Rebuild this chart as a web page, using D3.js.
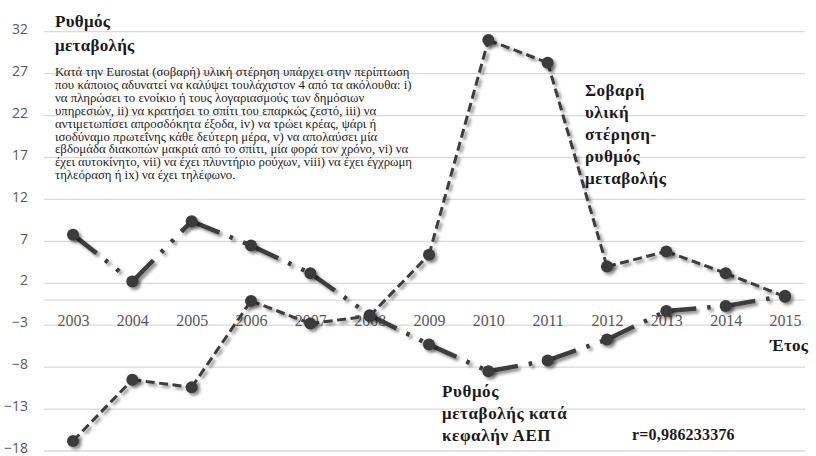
<!DOCTYPE html>
<html>
<head>
<meta charset="utf-8">
<script src="https://cdn.jsdelivr.net/npm/d3@7/dist/d3.min.js"></script>
<style>
  html, body { margin: 0; padding: 0; background: #ffffff; }
  svg { display: block; }
</style>
</head>
<body>
<svg id="chart" width="816" height="456"></svg>
<script>
// Years on the horizontal axis
const years = ["2003","2004","2005","2006","2007","2008","2009","2010","2011","2012","2013","2014","2015"];
// Rate of change of severe material deprivation (%)
const deprivationRate = [-16.8, -9.5, -10.4, -0.1, -2.8, -1.9, 5.4, 31.0, 28.3, 4.0, 5.8, 3.2, 0.4];
// Rate of change of GDP per capita (%)
const gdpRate = [7.8, 2.2, 9.4, 6.5, 3.2, -1.8, -5.3, -8.5, -7.2, -4.7, -1.3, -0.7, 0.5];
// Value-axis ticks
const yTicks = [32, 27, 22, 17, 12, 7, 2, -3, -8, -13, -18];

const titleLines = ["Ρυθμός", "μεταβολής"];
const noteLines = [
  "Κατά την Eurostat (σοβαρή) υλική στέρηση υπάρχει στην περίπτωση",
  "που κάποιος αδυνατεί να καλύψει τουλάχιστον 4 από τα ακόλουθα: i)",
  "να πληρώσει το ενοίκιο ή τους λογαριασμούς των δημόσιων",
  "υπηρεσιών, ii) να κρατήσει το σπίτι του επαρκώς ζεστό, iii) να",
  "αντιμετωπίσει απροσδόκητα έξοδα, iv) να τρώει κρέας, ψάρι ή",
  "ισοδύναμο πρωτεΐνης κάθε δεύτερη μέρα, v) να απολαύσει μία",
  "εβδομάδα διακοπών μακριά από το σπίτι, μία φορά τον χρόνο, vi) να",
  "έχει αυτοκίνητο, vii) να έχει πλυντήριο ρούχων, viii) να έχει έγχρωμη",
  "τηλεόραση ή ix) να έχει τηλέφωνο."
];
const deprivationLabel = ["Σοβαρή", "υλική", "στέρηση-", "ρυθμός", "μεταβολής"];
const gdpLabel = ["Ρυθμός", "μεταβολής κατά", "κεφαλήν ΑΕΠ"];
const xTitle = "Έτος";
const corrText = "r=0,986233376";

const svg = d3.select("#chart");
const serif = "'Liberation Serif', 'Times New Roman', serif";
const sans = "'Open Sans', 'Liberation Sans', sans-serif";

const plotLeft = 44, plotRight = 805;
const x = d3.scalePoint().domain(years).range([73, 785]);
const y = d3.scaleLinear().domain([-18, 32]).range([451, 31.7]);

// soft drop shadow used by lines and markers
const defs = svg.append("defs");
const f = defs.append("filter").attr("id", "shadow")
  .attr("x", "-20%").attr("y", "-20%").attr("width", "140%").attr("height", "140%");
f.append("feDropShadow").attr("dx", 2.5).attr("dy", 2.5)
  .attr("stdDeviation", 1.8).attr("flood-color", "#000").attr("flood-opacity", 0.45);

// horizontal gridlines
const grid = svg.append("g");
grid.selectAll("line.g").data(yTicks.concat([0])).join("line")
  .attr("x1", plotLeft).attr("x2", plotRight)
  .attr("y1", d => y(d)).attr("y2", d => y(d))
  .attr("stroke", "#d9d9d9").attr("stroke-width", 1.3);

// value axis labels
const yAxis = d3.axisLeft(y).tickValues(yTicks).tickSize(0).tickPadding(0);
const yg = svg.append("g").attr("transform", "translate(28,0)").call(yAxis);
yg.select(".domain").remove();
yg.selectAll("text").attr("font-family", sans).attr("font-size", 14)
  .attr("fill", "#595959").attr("text-anchor", "end").attr("dy", "0.12em");

// year labels along the zero line
const xAxis = d3.axisBottom(x).tickSize(0).tickPadding(0);
const xg = svg.append("g").attr("transform", "translate(0,315)").call(xAxis);
xg.select(".domain").remove();
xg.selectAll("text").attr("font-family", serif).attr("font-size", 16)
  .attr("fill", "#595959").attr("dy", "0.7em");

// series drawn segment by segment so the dash pattern starts at every point
function segments(vals) {
  return d3.pairs(years.map((yr, i) => ({ yr, v: vals[i] })));
}

const lineColor = "#3d3d3d";

const s1 = svg.append("g").attr("filter", "url(#shadow)");
s1.selectAll("line").data(segments(deprivationRate)).join("line")
  .attr("x1", d => x(d[0].yr)).attr("y1", d => y(d[0].v))
  .attr("x2", d => x(d[1].yr)).attr("y2", d => y(d[1].v))
  .attr("stroke", lineColor).attr("stroke-width", 3)
  .attr("stroke-dasharray", "9,4.5");

const s2 = svg.append("g").attr("filter", "url(#shadow)");
s2.selectAll("line").data(segments(gdpRate)).join("line")
  .attr("x1", d => x(d[0].yr)).attr("y1", d => y(d[0].v))
  .attr("x2", d => x(d[1].yr)).attr("y2", d => y(d[1].v))
  .attr("stroke", lineColor).attr("stroke-width", 4.5)
  .attr("stroke-dasharray", "30,11,3.5,11,3.5,11");

const m = svg.append("g").attr("filter", "url(#shadow)");
m.selectAll("circle.a").data(deprivationRate).join("circle").attr("class", "a")
  .attr("cx", (d, i) => x(years[i])).attr("cy", d => y(d)).attr("r", 6)
  .attr("fill", "#3a3a3a");
m.selectAll("circle.b").data(gdpRate).join("circle").attr("class", "b")
  .attr("cx", (d, i) => x(years[i])).attr("cy", d => y(d)).attr("r", 6)
  .attr("fill", "#3a3a3a");

// annotations
function block(lines, x0, y0, dy, size, weight, family, spacing) {
  const t = svg.append("text").attr("font-family", family || serif).attr("font-size", size)
    .attr("font-weight", weight).attr("fill", "#1a1a1a")
    .attr("letter-spacing", spacing || 0);
  t.selectAll("tspan").data(lines).join("tspan")
    .attr("x", x0).attr("y", (d, i) => y0 + i * dy).text(d => d);
  return t;
}

block(titleLines, 55, 27, 24, 17, "bold", serif, 0.3);
block(noteLines, 55, 76, 12.9, 12.8, "normal", serif, 0).attr("fill", "#222");
block(deprivationLabel, 585, 96, 22, 17, "bold", serif, 0.5);
block(gdpLabel, 442, 397, 22, 17, "bold", serif, 0.6);
block([xTitle], 770, 351, 0, 17, "bold", serif, 0.3);
block([corrText], 632, 440, 0, 16, "bold", serif, 0.2);
</script>
</body>
</html>
